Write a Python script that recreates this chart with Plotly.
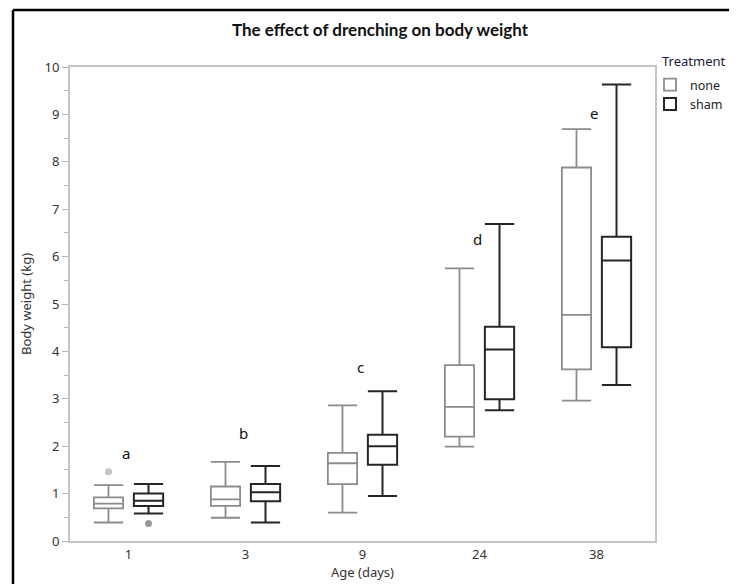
import plotly.graph_objects as go

ages = ["1", "3", "9", "24", "38"]

none_lower = [0.39, 0.49, 0.60, 1.99, 2.96]
none_q1 = [0.69, 0.74, 1.20, 2.20, 3.62]
none_median = [0.79, 0.88, 1.64, 2.83, 4.77]
none_q3 = [0.92, 1.15, 1.86, 3.71, 7.88]
none_upper = [1.18, 1.67, 2.86, 5.75, 8.69]

sham_lower = [0.58, 0.39, 0.95, 2.76, 3.29]
sham_q1 = [0.74, 0.84, 1.61, 2.99, 4.09]
sham_median = [0.85, 1.03, 2.00, 4.04, 5.92]
sham_q3 = [1.00, 1.20, 2.24, 4.52, 6.42]
sham_upper = [1.20, 1.58, 3.16, 6.69, 9.63]

none_outlier_age = ["1"]
none_outlier = [1.46]
sham_outlier_age = ["1"]
sham_outlier = [0.37]

letters = ["a", "b", "c", "d", "e"]
letter_y = [1.86, 2.28, 3.67, 6.37, 9.03]

legend_title = "Treatment"

# layout constants (page has an 8px body margin, so the figure is 8px smaller)
OFF = 0.171
BW = 0.25
NONE_COL = "#8c8c8c"
SHAM_COL = "#262626"
FONT = "Noto Sans"
W, H = 729, 576
ML, MR, MT, MB = 62, 82, 59, 43
PW, PH = W - ML - MR, H - MT - MB

pos = {a: i for i, a in enumerate(ages)}
idx = list(range(len(ages)))

fig = go.Figure()
fig.add_trace(go.Box(
    name="none", orientation="v",
    x=[i - OFF for i in idx],
    q1=none_q1, median=none_median, q3=none_q3,
    lowerfence=none_lower, upperfence=none_upper,
    width=BW, whiskerwidth=1, boxpoints=False,
    line=dict(color=NONE_COL, width=1.8), fillcolor="rgba(255,255,255,0)",
))
fig.add_trace(go.Box(
    name="sham", orientation="v",
    x=[i + OFF for i in idx],
    q1=sham_q1, median=sham_median, q3=sham_q3,
    lowerfence=sham_lower, upperfence=sham_upper,
    width=BW, whiskerwidth=1, boxpoints=False,
    line=dict(color=SHAM_COL, width=2), fillcolor="rgba(255,255,255,0)",
))
fig.add_trace(go.Scatter(
    x=[pos[a] - OFF for a in none_outlier_age], y=none_outlier,
    mode="markers", marker=dict(color="#c4c4c4", size=7),
    showlegend=False, hoverinfo="y",
))
fig.add_trace(go.Scatter(
    x=[pos[a] + OFF for a in sham_outlier_age], y=sham_outlier,
    mode="markers", marker=dict(color="#9a9a9a", size=7),
    showlegend=False, hoverinfo="y",
))

for i, (lab, ly) in enumerate(zip(letters, letter_y)):
    fig.add_annotation(x=i - 0.02, y=ly, text=lab, showarrow=False,
                       font=dict(family=FONT, size=15, color="#111"))

fig.add_annotation(text=legend_title, xref="paper", yref="paper",
                   x=(652 - ML) / PW, xanchor="left",
                   y=(PH + MT - 53) / PH, yanchor="middle",
                   showarrow=False, font=dict(family=FONT, size=13, color="#1a1a3a"))

fig.update_layout(
    width=W, height=H,
    margin=dict(l=ML, r=MR, t=MT, b=MB, autoexpand=False),
    paper_bgcolor="white", plot_bgcolor="white",
    boxmode="overlay",
    font=dict(family=FONT, size=13, color="#333"),
    title=dict(text="<b>The effect of drenching on body weight</b>",
               x=372 / W, xanchor="center", xref="container",
               y=1 - 22 / H, yanchor="middle", yref="container",
               font=dict(family="Lato", size=17, color="#111")),
    legend=dict(xref="container", yref="container",
                x=642 / W, xanchor="left", y=1 - 62 / H, yanchor="top",
                font=dict(family=FONT, size=13, color="#222"),
                bgcolor="rgba(0,0,0,0)", tracegroupgap=0, itemwidth=30,
                tracegroupgap_=None) if False else dict(
                xref="container", yref="container",
                x=642 / W, xanchor="left", y=1 - 62 / H, yanchor="top",
                font=dict(family=FONT, size=12.5, color="#222"),
                bgcolor="rgba(0,0,0,0)", tracegroupgap=0, itemwidth=30),
    xaxis=dict(
        range=[-0.5, len(ages) - 0.5], tickmode="array", tickvals=idx, ticktext=ages,
        showgrid=False, zeroline=False, showline=True, mirror=True,
        linecolor="#c4c4c4", linewidth=2, ticks="",
        tickfont=dict(size=13),
        title=dict(text="Age (days)", standoff=2, font=dict(family=FONT, size=13, color="#333")),
    ),
    yaxis=dict(
        range=[0, 10], dtick=1, showgrid=False, zeroline=False,
        showline=True, mirror=True, linecolor="#c4c4c4", linewidth=2,
        ticks="outside", ticklen=6, tickcolor="#b4b4b4", tickwidth=1,
        tickfont=dict(size=13),
        minor=dict(dtick=0.5, ticks="outside", ticklen=4, tickcolor="#b4b4b4"),
        title=dict(text="Body weight (kg)", standoff=10, font=dict(family=FONT, size=13, color="#333")),
    ),
    shapes=[
        dict(type="line", xref="paper", yref="paper",
             x0=(5 - ML) / PW, x1=(760 - ML) / PW,
             y0=(PH + MT - 2) / PH, y1=(PH + MT - 2) / PH,
             line=dict(color="black", width=2.5), layer="below"),
        dict(type="line", xref="paper", yref="paper",
             x0=(5 - ML) / PW, x1=(5 - ML) / PW,
             y0=(PH + MT - 2) / PH, y1=-0.3,
             line=dict(color="black", width=2.5), layer="below"),
    ],
)

fig.write_html("out.html")
